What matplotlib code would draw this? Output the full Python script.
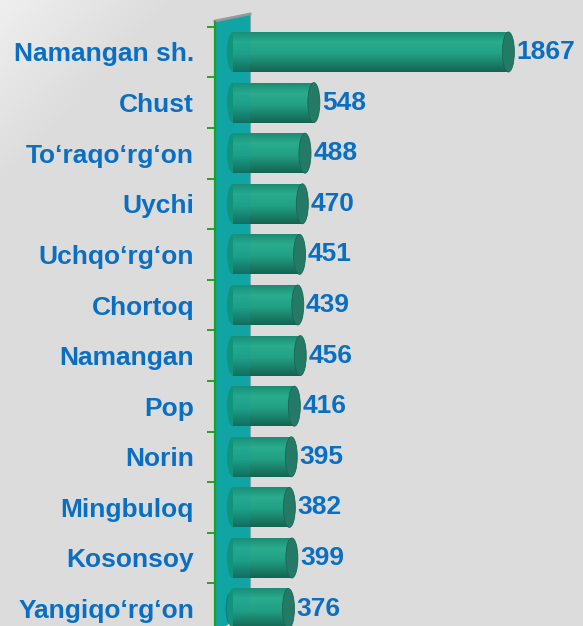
import numpy as np
import matplotlib.pyplot as plt
from matplotlib.colors import LinearSegmentedColormap
from matplotlib.patches import Ellipse, Polygon

# data
districts = ["Namangan sh.", "Chust", "To\u2018raqo\u2018rg\u2018on", "Uychi", "Uchqo\u2018rg\u2018on",
             "Chortoq", "Namangan", "Pop", "Norin", "Mingbuloq", "Kosonsoy", "Yangiqo\u2018rg\u2018on"]
values = [1867, 548, 488, 470, 451, 439, 456, 416, 395, 382, 399, 376]

W, H = 583, 626
blue = "#0a6fc2"
plt.rcParams['font.family'] = ['Liberation Sans', 'DejaVu Sans']

fig = plt.figure(figsize=(W / 100, H / 100), dpi=100)
fig.patch.set_facecolor("#dcdcdc")

# light sheen in the top-left corner
bg = fig.add_axes([0, 0, 1, 1], zorder=-10)
xx, yy = np.meshgrid(np.linspace(0, 1, 300), np.linspace(0, 1, 300))
sheen = np.clip(1 - (xx + yy) / 0.3, 0, 1)
bg.imshow(sheen, cmap=LinearSegmentedColormap.from_list("bg", ["#dcdcdc", "#efefef"]),
          extent=(0, 1, 1, 0), aspect='auto')
bg.axis('off')


def px(x, y):
    return (x / W, 1 - y / H)


# x=0 sits at pixel 233, 0.1475 px per unit
scale = 0.1475
ax = fig.add_axes([233 / W, 0, (W - 233) / W, 1])
ax.set_facecolor("none")
n = len(values)
y = np.arange(n)

# axis line first: set_position resets the ticks
ax.spines['left'].set_position(('outward', 13))
for s in ['top', 'right', 'bottom']:
    ax.spines[s].set_visible(False)

# wall behind bars
wall_pts = [px(215, 22), px(250, 14), px(250, 608), px(226, 626), px(215, 626)]
ax.add_patch(Polygon(wall_pts, closed=True, transform=fig.transFigure, facecolor="#12a6a6",
                     edgecolor="none", zorder=0.5, clip_on=False))
ax.plot([px(215, 21)[0], px(250, 14)[0]], [px(215, 21)[1], px(250, 14)[1]],
        transform=fig.transFigure, color="#9a9a9a", lw=2, clip_on=False, zorder=0.6)
ax.plot([px(250, 14)[0], px(250, 608)[0]], [px(250, 14)[1], px(250, 608)[1]],
        transform=fig.transFigure, color="#7fa9a9", lw=0.8, clip_on=False, zorder=0.6)

body = LinearSegmentedColormap.from_list(
    "cyl", [(0, "#1c8c72"), (0.25, "#2aac8d"), (0.55, "#22a084"), (1, "#136451")])
h = 0.79
cap_w = 12 / scale
for yi, v in zip(y, values):
    ax.add_patch(Ellipse((0, yi), cap_w, h, facecolor="#139274", edgecolor="none",
                         zorder=2, clip_on=False))
    grad = np.linspace(0, 1, 100).reshape(-1, 1)
    ax.imshow(grad, cmap=body, extent=(0, v, yi + h / 2, yi - h / 2),
              aspect='auto', origin='upper', zorder=2.1, interpolation='bilinear')
    ax.add_patch(Ellipse((v, yi), cap_w, h, facecolor="#257a67", edgecolor="#1d6655",
                         lw=0.6, zorder=2.2))
    ax.annotate(f"{v}", (v, yi), xytext=(6, 0), textcoords='offset points',
                ha='left', va='center', color=blue, fontsize=19, fontweight='bold')

# shadow at the foot of the wall
ax.add_patch(Ellipse((-25, n - 1), 50, 0.6, facecolor="#0d4f44", alpha=0.5,
                     edgecolor="none", zorder=1.9, clip_on=False))

# translucent wall front over the bar roots
ax.add_patch(Polygon(wall_pts, closed=True, transform=fig.transFigure, facecolor="#0aa0a0",
                     alpha=0.18, edgecolor="none", zorder=3, clip_on=False))

ax.set_xlim(0, (W - 233) / scale)
ax.set_ylim((H - 52) / 50.6, -52 / 50.6)

ax.set_yticks(y)
ax.set_yticklabels(districts, color=blue, fontsize=19, fontweight='bold')
ax.set_yticks(np.arange(n) - 0.5, minor=True)
ax.tick_params(axis='y', which='major', length=0, pad=15)
ax.tick_params(axis='y', which='minor', length=5.5, width=1.3, color="#1c9a1c", direction='out')
ax.set_xticks([])
ax.spines['left'].set_color("#1fa01f")
ax.spines['left'].set_linewidth(1.6)
ax.spines['left'].set_bounds(-0.6, (H - 52) / 50.6)
ax.spines['left'].set_zorder(4)

fig.savefig("out.png", dpi=100, facecolor=fig.get_facecolor())
